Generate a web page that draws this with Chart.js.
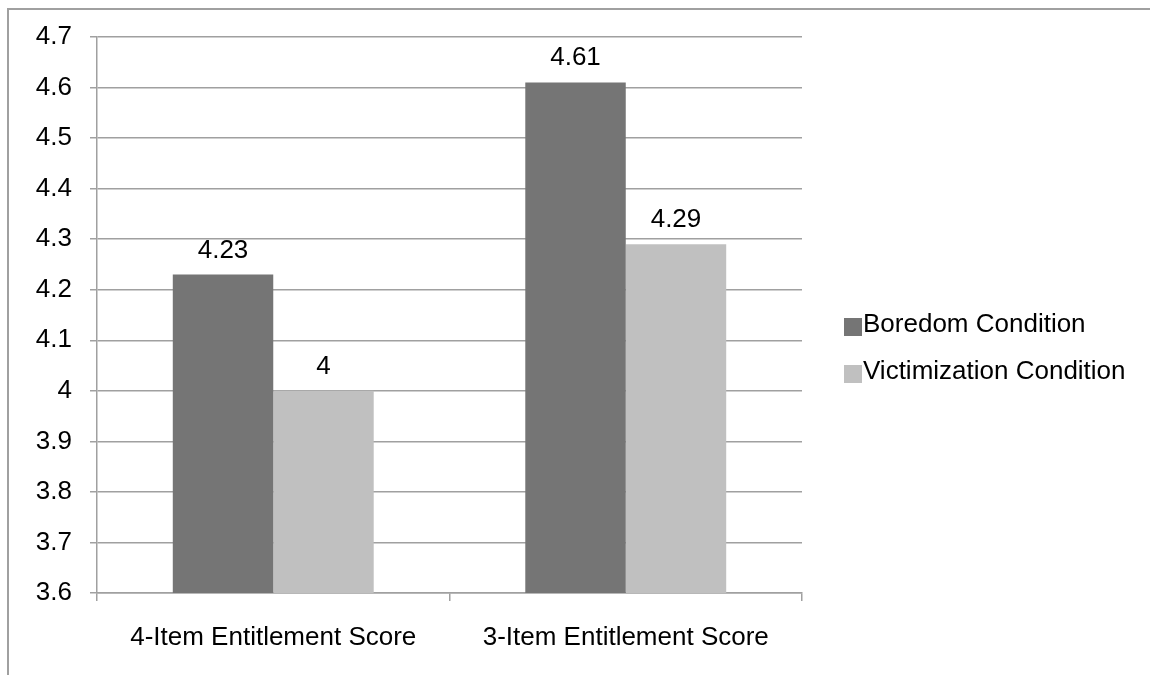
<!DOCTYPE html>
<html>
<head>
<meta charset="utf-8">
<script src="https://cdn.jsdelivr.net/npm/chart.js@4/dist/chart.umd.min.js"></script>
<style>
  html, body { margin: 0; padding: 0; background: #ffffff; overflow: hidden; }
  #wrap { position: relative; width: 1150px; height: 675px; }
  #frame { position: absolute; left: 7px; top: 8px; width: 1200px; height: 700px;
           border-top: 2px solid #a0a0a0; border-left: 2px solid #a0a0a0; box-sizing: border-box; }
  canvas { position: absolute; left: 0; top: 0; }
</style>
</head>
<body>
<div id="wrap">
  <div id="frame"></div>
  <canvas id="c" width="1150" height="675"></canvas>
</div>
<script>
const categories = ["4-Item Entitlement Score", "3-Item Entitlement Score"];
const seriesNames = ["Boredom Condition", "Victimization Condition"];
const boredomValues = [4.23, 4.61];
const victimizationValues = [4.00, 4.29];
const valueLabels = [["4.23", "4.61"], ["4", "4.29"]];
const yMin = 3.6, yMax = 4.7, yStep = 0.1;

const FONT = "'Liberation Sans', Arial, sans-serif";
const colors = ["#757575", "#c0c0c0"];

const dataLabelPlugin = {
  id: 'dataLabels',
  afterDatasetsDraw(chart) {
    const ctx = chart.ctx;
    ctx.save();
    ctx.font = "26px " + FONT;
    ctx.fillStyle = "#000000";
    ctx.textAlign = "center";
    ctx.textBaseline = "alphabetic";
    chart.data.datasets.forEach((ds, di) => {
      const meta = chart.getDatasetMeta(di);
      meta.data.forEach((bar, i) => {
        ctx.fillText(valueLabels[di][i], bar.x, bar.y - 17);
      });
    });
    ctx.restore();
  }
};

const legendPlugin = {
  id: 'customLegend',
  afterDraw(chart) {
    const ctx = chart.ctx;
    ctx.save();
    ctx.font = "26px " + FONT;
    ctx.textAlign = "left";
    ctx.textBaseline = "alphabetic";
    chart.data.datasets.forEach((ds, di) => {
      const top = 318 + di * 47;
      ctx.fillStyle = ds.backgroundColor;
      ctx.fillRect(844, top, 18, 18);
      ctx.fillStyle = "#000000";
      ctx.fillText(ds.label, 863, top + 14);
    });
    ctx.restore();
  }
};

new Chart(document.getElementById('c'), {
  type: 'bar',
  data: {
    labels: categories,
    datasets: [
      { label: seriesNames[0], data: boredomValues, backgroundColor: colors[0] },
      { label: seriesNames[1], data: victimizationValues, backgroundColor: colors[1] }
    ]
  },
  options: {
    responsive: false,
    animation: false,
    devicePixelRatio: 1,
    layout: { padding: { top: 37, right: 348, bottom: 0, left: 0 } },
    plugins: { legend: { display: false }, tooltip: { enabled: false } },
    datasets: { bar: { categoryPercentage: 0.57, barPercentage: 1.0, borderWidth: 0 } },
    scales: {
      x: {
        afterFit(scale) { scale.height = 82; },
        grid: { display: true, drawOnChartArea: false, drawTicks: true, tickLength: 8,
                color: "#a0a0a0", lineWidth: 1.5, offset: true },
        border: { display: true, color: "#a0a0a0", width: 1.5 },
        ticks: { font: { family: FONT, size: 26 }, color: "#000000", padding: 21, maxRotation: 0 }
      },
      y: {
        min: yMin, max: yMax,
        afterFit(scale) { scale.width = 97; },
        grid: { color: "#a0a0a0", lineWidth: 1.5, tickLength: 7, drawTicks: true },
        border: { display: true, color: "#a0a0a0", width: 1.5 },
        ticks: {
          stepSize: yStep,
          font: { family: FONT, size: 26 }, color: "#000000", padding: 18,
          callback: (v) => String(Math.round(v * 10) / 10)
        }
      }
    }
  },
  plugins: [dataLabelPlugin, legendPlugin]
});
</script>
</body>
</html>
